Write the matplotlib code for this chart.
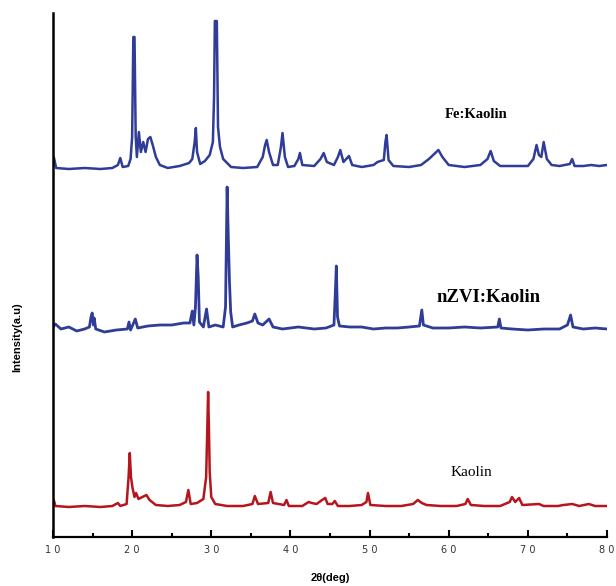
import matplotlib
matplotlib.use("Agg")
import matplotlib.pyplot as plt
from matplotlib.ticker import MultipleLocator, FixedLocator, FixedFormatter

# ---- data (2theta, stacked intensity in arbitrary units) ----
fe_x = [10.0, 10.1, 10.4, 12, 14, 16, 17.5, 18.2, 18.5, 18.8, 19.5, 19.8, 20.0, 20.15, 20.3, 20.45,
        20.6, 20.85, 21.1, 21.4, 21.7, 22.0, 22.3, 22.6, 23.0, 23.5, 24.5, 26, 27.2, 27.6, 27.9,
        28.05, 28.2, 28.6, 29.2, 29.8, 30.2, 30.35, 30.45, 30.7, 30.85, 31.1, 31.5, 32.5, 34, 35.8,
        36.5, 36.8, 37.0, 37.3, 37.8, 38.4, 38.8, 39.0, 39.3, 39.7, 40.5, 41.0, 41.2, 41.5, 43.0,
        43.8, 44.2, 44.6, 45.5, 46.0, 46.3, 46.7, 47.4, 47.8, 49, 50.5, 51.0, 51.8, 52.0, 52.15,
        52.4, 53, 55, 56.5, 57.5, 58.3, 58.7, 59.2, 60, 62, 64, 64.9, 65.3, 65.7, 66.5, 68, 70,
        70.7, 71.1, 71.4, 71.7, 72.0, 72.4, 73.0, 74, 75.3, 75.6, 75.9, 77, 78, 79, 80]
fe_y = [372, 380, 369, 368, 369, 368, 369, 372, 379, 370, 371, 378, 400, 500, 500, 400,
        380, 405, 385, 395, 385, 398, 400, 392, 380, 372, 369, 371, 374, 378, 395,
        409, 385, 373, 376, 382, 395, 440, 516, 516, 410, 390, 378, 370, 369, 370,
        380, 392, 397, 385, 372, 372, 390, 404, 380, 370, 371, 378, 384, 372, 371,
        378, 384, 375, 372, 380, 387, 375, 381, 372, 370, 372, 375, 377, 395, 402,
        377, 371, 370, 372, 378, 384, 387, 380, 372, 370, 372, 378, 386, 376, 371, 371, 371,
        378, 392, 382, 380, 395, 378, 372, 371, 373, 378, 371, 371, 372, 371, 372]

nz_x = [10.0, 10.3, 11, 12, 13, 14, 14.6, 14.8, 14.95, 15.1, 15.2, 15.4, 16.5, 18, 19.4, 19.6,
        19.8, 20.4, 20.7, 22, 23.5, 25, 26.5, 27.3, 27.6, 27.8, 28.0, 28.2, 28.35, 28.5, 29.0,
        29.4, 29.7, 30.5, 31.5, 31.8, 32.0, 32.15, 32.3, 32.45, 32.7, 33.5, 34.5, 35.2, 35.5,
        35.9, 36.5, 37.3, 37.8, 39, 41, 43, 44.5, 45.5, 45.65, 45.8, 45.95, 46.2, 47.5, 49,
        50.5, 52, 53.5, 55, 56.3, 56.6, 56.8, 58, 60, 62, 64, 66.2, 66.4, 66.6, 68, 70, 72, 74,
        75.0, 75.4, 75.7, 77, 78.5, 80]
nz_y = [210, 213, 208, 210, 206, 208, 210, 220, 224, 212, 219, 208, 205, 207, 208, 215,
        207, 218, 209, 211, 212, 212, 214, 214, 226, 212, 230, 282, 260, 215, 210,
        228, 210, 212, 210, 230, 350, 300, 255, 225, 210, 212, 214, 216, 223,
        214, 212, 218, 210, 208, 210, 208, 209, 212, 240, 271, 220, 211, 210, 210,
        208, 209, 209, 210, 211, 227, 212, 209, 209, 210, 209, 210, 218, 209, 208, 207, 208, 208,
        212, 222, 210, 208, 209, 208]

ka_x = [10.0, 10.1, 10.3, 12, 14, 16, 17.5, 18.2, 18.5, 19.3, 19.55, 19.7, 19.85, 20.05, 20.3,
        20.5, 20.8, 21.3, 21.8, 22.2, 23, 24.5, 26, 26.8, 27.1, 27.4, 28.2, 29.0, 29.35, 29.5,
        29.6, 29.7, 29.8, 30.0, 30.5, 32, 34, 35.2, 35.5, 35.9, 37.2, 37.5, 37.8, 39.2, 39.5,
        39.8, 41.5, 42.3, 42.7, 43.3, 44.0, 44.4, 44.7, 45.3, 45.6, 46.0, 47.5, 49, 49.6, 49.8,
        50.1, 52, 54, 55.5, 56.1, 56.6, 57.2, 59, 61, 62.1, 62.4, 62.8, 64.5, 66.5, 67.7, 68.0,
        68.4, 68.9, 69.3, 71.4, 72, 73.8, 74.5, 75.6, 76.5, 77.7, 78.5, 80]
ka_y = [33, 37, 31, 30, 31, 30, 31, 34, 31, 33, 60, 84, 60, 49, 40,
        44, 38, 40, 42, 37, 32, 31, 32, 35, 47, 33, 34, 38, 60, 110,
        145, 110, 65, 40, 33, 31, 31, 33, 41, 33, 34, 45, 34, 32, 37,
        31, 31, 35, 34, 33, 37, 39, 33, 33, 36, 31, 31, 32, 35, 44,
        32, 31, 31, 33, 37, 34, 32, 31, 31, 33, 38, 32, 31, 31, 35, 40,
        35, 39, 32, 33, 31, 31, 32, 33, 31, 33, 31, 31]

series_labels = ["Fe:Kaolin", "nZVI:Kaolin", "Kaolin"]
tick_values = [10, 20, 30, 40, 50, 60, 70, 80]
tick_labels = ["1 0", "2 0", "3 0", "4 0", "5 0", "6 0", "7 0", "8 0"]

blue = "#2f3c98"
red = "#b5161e"

fig = plt.figure(figsize=(6.16, 5.86), dpi=100)
ax = fig.add_axes([53/616, 49/586, 554/616, 524/586])

ax.plot(fe_x, fe_y, color=blue, lw=1.8)
ax.plot(nz_x, nz_y, color=blue, lw=2.0)
ax.plot(ka_x, ka_y, color=red, lw=1.8)

ax.set_xlim(10, 80)
ax.set_ylim(0, 524)

for s in ["top", "right"]:
    ax.spines[s].set_visible(False)
ax.spines["left"].set_linewidth(1.8)
ax.spines["bottom"].set_linewidth(1.6)

ax.xaxis.set_major_locator(FixedLocator(tick_values))
ax.xaxis.set_major_formatter(FixedFormatter(tick_labels))
ax.xaxis.set_minor_locator(MultipleLocator(5))
ax.tick_params(axis="x", which="major", direction="in", length=5, width=1.5, pad=6,
               labelsize=7, labelcolor="#333333")
ax.tick_params(axis="x", which="minor", direction="in", length=3, width=1.5)
ax.set_yticks([])

ax.set_xlabel("2θ(deg)", fontsize=8, fontweight="bold", family="Liberation Sans", labelpad=13)
fig.text(17/616, 1 - 337/586, "Intensity(a.u)", rotation=90, fontsize=8, fontweight="bold",
         family="Liberation Sans", ha="center", va="center")

ax.text(63.4, 537 - 115, series_labels[0], family="Liberation Serif", fontweight="bold",
        fontsize=10.5, ha="center", va="center")
ax.text(65.0, 537 - 298, series_labels[1], family="Liberation Serif", fontweight="bold",
        fontsize=13.5, ha="center", va="center")
ax.text(62.9, 537 - 473, series_labels[2], family="Liberation Serif",
        fontsize=11, ha="center", va="center")

fig.savefig("out.png", dpi=100)
